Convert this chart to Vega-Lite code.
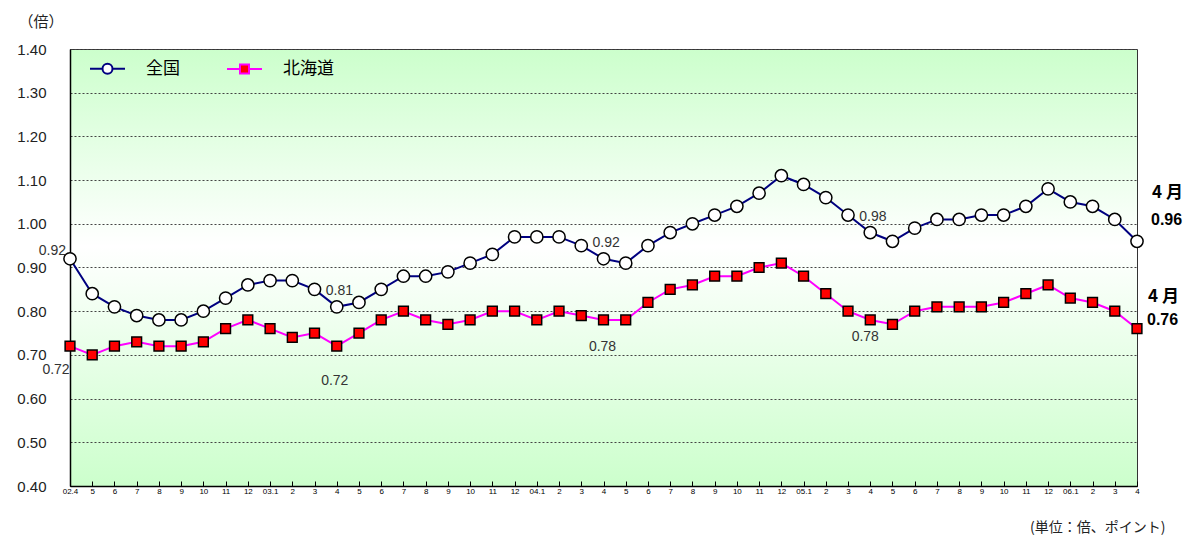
{
  "$schema": "https://vega.github.io/schema/vega-lite/v6.json",
  "width": 1067,
  "height": 437,
  "autosize": {"type": "none"},
  "padding": {"left": 70, "top": 49, "right": 58, "bottom": 53},
  "background": "white",
  "data": {"values": [
    {"m": "02.4", "全国": 0.92, "北海道": 0.72},
    {"m": "02.5", "全国": 0.84, "北海道": 0.70},
    {"m": "02.6", "全国": 0.81, "北海道": 0.72},
    {"m": "02.7", "全国": 0.79, "北海道": 0.73},
    {"m": "02.8", "全国": 0.78, "北海道": 0.72},
    {"m": "02.9", "全国": 0.78, "北海道": 0.72},
    {"m": "02.10", "全国": 0.80, "北海道": 0.73},
    {"m": "02.11", "全国": 0.83, "北海道": 0.76},
    {"m": "02.12", "全国": 0.86, "北海道": 0.78},
    {"m": "03.1", "全国": 0.87, "北海道": 0.76},
    {"m": "03.2", "全国": 0.87, "北海道": 0.74},
    {"m": "03.3", "全国": 0.85, "北海道": 0.75},
    {"m": "03.4", "全国": 0.81, "北海道": 0.72},
    {"m": "03.5", "全国": 0.82, "北海道": 0.75},
    {"m": "03.6", "全国": 0.85, "北海道": 0.78},
    {"m": "03.7", "全国": 0.88, "北海道": 0.80},
    {"m": "03.8", "全国": 0.88, "北海道": 0.78},
    {"m": "03.9", "全国": 0.89, "北海道": 0.77},
    {"m": "03.10", "全国": 0.91, "北海道": 0.78},
    {"m": "03.11", "全国": 0.93, "北海道": 0.80},
    {"m": "03.12", "全国": 0.97, "北海道": 0.80},
    {"m": "04.1", "全国": 0.97, "北海道": 0.78},
    {"m": "04.2", "全国": 0.97, "北海道": 0.80},
    {"m": "04.3", "全国": 0.95, "北海道": 0.79},
    {"m": "04.4", "全国": 0.92, "北海道": 0.78},
    {"m": "04.5", "全国": 0.91, "北海道": 0.78},
    {"m": "04.6", "全国": 0.95, "北海道": 0.82},
    {"m": "04.7", "全国": 0.98, "北海道": 0.85},
    {"m": "04.8", "全国": 1.00, "北海道": 0.86},
    {"m": "04.9", "全国": 1.02, "北海道": 0.88},
    {"m": "04.10", "全国": 1.04, "北海道": 0.88},
    {"m": "04.11", "全国": 1.07, "北海道": 0.90},
    {"m": "04.12", "全国": 1.11, "北海道": 0.91},
    {"m": "05.1", "全国": 1.09, "北海道": 0.88},
    {"m": "05.2", "全国": 1.06, "北海道": 0.84},
    {"m": "05.3", "全国": 1.02, "北海道": 0.80},
    {"m": "05.4", "全国": 0.98, "北海道": 0.78},
    {"m": "05.5", "全国": 0.96, "北海道": 0.77},
    {"m": "05.6", "全国": 0.99, "北海道": 0.80},
    {"m": "05.7", "全国": 1.01, "北海道": 0.81},
    {"m": "05.8", "全国": 1.01, "北海道": 0.81},
    {"m": "05.9", "全国": 1.02, "北海道": 0.81},
    {"m": "05.10", "全国": 1.02, "北海道": 0.82},
    {"m": "05.11", "全国": 1.04, "北海道": 0.84},
    {"m": "05.12", "全国": 1.08, "北海道": 0.86},
    {"m": "06.1", "全国": 1.05, "北海道": 0.83},
    {"m": "06.2", "全国": 1.04, "北海道": 0.82},
    {"m": "06.3", "全国": 1.01, "北海道": 0.80},
    {"m": "06.4", "全国": 0.96, "北海道": 0.76}
  ]},
  "transform": [{"fold": ["全国", "北海道"], "as": ["s", "v"]}],
  "encoding": {
    "x": {
      "field": "m", "type": "ordinal", "sort": null,
      "scale": {"type": "point", "padding": 0},
      "axis": {
        "labelExpr": "indexof(['02.4','03.1','04.1','05.1','06.1'], datum.value) >= 0 ? datum.value : split(datum.value, '.')[1]",
        "labelAngle": 0, "labelFont": "Liberation Sans", "labelFontSize": 8, "labelColor": "#000",
        "labelOverlap": false, "labelPadding": 6,
        "tickSize": -5, "tickColor": "#000", "domainColor": "#000", "domainWidth": 1.5, "grid": false,
        "title": "(単位：倍、ポイント)", "titleFont": "Noto Sans CJK JP", "titleFontSize": 14,
        "titleFontWeight": "normal", "titleColor": "#222", "titleAlign": "right", "titleBaseline": "middle",
        "titleX": 1095, "titleY": 41
      }
    },
    "y": {
      "field": "v", "type": "quantitative",
      "scale": {"domain": [0.4, 1.4], "nice": false, "zero": false},
      "axis": {
        "values": [0.4, 0.5, 0.6, 0.7, 0.8, 0.9, 1.0, 1.1, 1.2, 1.3, 1.4],
        "format": ".2f", "labelFont": "Liberation Sans", "labelFontSize": 15, "labelColor": "#222",
        "ticks": false, "labelPadding": 24, "domainColor": "#000", "domainWidth": 1.5,
        "gridColor": "#444", "gridDash": [2, 2], "gridWidth": 1,
        "title": "（倍）", "titleFont": "Noto Sans CJK JP", "titleFontSize": 15, "titleFontWeight": "normal",
        "titleColor": "#222", "titleAngle": 0, "titleAlign": "left", "titleBaseline": "middle",
        "titleX": -52, "titleY": -28
      }
    }
  },
  "layer": [
    {
      "mark": {"type": "line", "strokeWidth": 2},
      "encoding": {
        "color": {
          "field": "s", "type": "nominal",
          "scale": {"domain": ["全国", "北海道"], "range": ["#000080", "#ff00ff"]},
          "legend": {
            "orient": "none", "legendX": 29, "legendY": 11, "direction": "horizontal", "title": null,
            "symbolSize": 100, "labelOffset": 30, "labelFont": "Noto Sans CJK JP", "labelFontSize": 17,
            "labelColor": "#000", "columnPadding": 43, "padding": 0, "labelLimit": 0,
            "encode": {"symbols": {"update": {
              "shape": {"signal": "datum.value === '全国' ? 'M-3.5,0H-1M1,0H3.5M-1,0A1,1 0 1,1 1,0A1,1 0 1,1 -1,0Z' : 'M-3.5,0H-0.9M0.9,0H3.5M-0.9,-0.9H0.9V0.9H-0.9Z'"},
              "fill": {"signal": "datum.value === '全国' ? '#ffffff' : '#ff0000'"},
              "stroke": {"signal": "datum.value === '全国' ? '#000080' : '#ff00ff'"},
              "strokeWidth": {"value": 2},
              "opacity": {"value": 1},
              "fillOpacity": {"value": 1}
            }}}
          }
        }
      }
    },
    {
      "transform": [{"filter": "datum.s === '全国'"}],
      "mark": {"type": "point", "shape": "circle", "filled": true, "fill": "#ffffff", "stroke": "#000", "strokeWidth": 1.5, "opacity": 1, "size": 150}
    },
    {
      "transform": [{"filter": "datum.s === '北海道'"}],
      "mark": {"type": "point", "shape": "square", "filled": true, "fill": "#ff0000", "stroke": "#000", "strokeWidth": 1.5, "opacity": 1, "size": 95}
    },
    {
      "transform": [{"filter": "datum.s === '全国' && datum.m === '02.4'"}],
      "mark": {"type": "text", "align": "right", "baseline": "middle", "dx": -4, "dy": -8, "font": "Liberation Sans", "fontSize": 14, "color": "#333"},
      "encoding": {"text": {"field": "v", "type": "quantitative", "format": ".2f"}}
    },
    {
      "transform": [{"filter": "datum.s === '全国' && (datum.m === '03.4' || datum.m === '04.4' || datum.m === '05.4')"}],
      "mark": {"type": "text", "align": "left", "baseline": "middle", "dx": -11, "dy": -16, "font": "Liberation Sans", "fontSize": 14, "color": "#333"},
      "encoding": {"text": {"field": "v", "type": "quantitative", "format": ".2f"}}
    },
    {
      "transform": [{"filter": "datum.s === '北海道' && datum.m === '02.4'"}],
      "mark": {"type": "text", "align": "center", "baseline": "middle", "dx": -14, "dy": 24, "font": "Liberation Sans", "fontSize": 14, "color": "#333"},
      "encoding": {"text": {"field": "v", "type": "quantitative", "format": ".2f"}}
    },
    {
      "transform": [{"filter": "datum.s === '北海道' && datum.m === '03.4'"}],
      "mark": {"type": "text", "align": "center", "baseline": "middle", "dx": -2, "dy": 35, "font": "Liberation Sans", "fontSize": 14, "color": "#333"},
      "encoding": {"text": {"field": "v", "type": "quantitative", "format": ".2f"}}
    },
    {
      "transform": [{"filter": "datum.s === '北海道' && datum.m === '04.4'"}],
      "mark": {"type": "text", "align": "center", "baseline": "middle", "dx": -1, "dy": 27, "font": "Liberation Sans", "fontSize": 14, "color": "#333"},
      "encoding": {"text": {"field": "v", "type": "quantitative", "format": ".2f"}}
    },
    {
      "transform": [{"filter": "datum.s === '北海道' && datum.m === '05.4'"}],
      "mark": {"type": "text", "align": "center", "baseline": "middle", "dx": -5, "dy": 17, "font": "Liberation Sans", "fontSize": 14, "color": "#333"},
      "encoding": {"text": {"field": "v", "type": "quantitative", "format": ".2f"}}
    },
    {
      "transform": [{"filter": "datum.s === '全国' && datum.m === '06.4'"}],
      "mark": {"type": "text", "align": "left", "baseline": "middle", "dx": 15, "dy": -48, "font": "Noto Sans CJK JP", "fontSize": 17, "fontWeight": "bold", "color": "#000", "text": "4 月"}
    },
    {
      "transform": [{"filter": "datum.s === '全国' && datum.m === '06.4'"}],
      "mark": {"type": "text", "align": "left", "baseline": "middle", "dx": 14, "dy": -21, "font": "Liberation Sans", "fontSize": 16, "fontWeight": "bold", "color": "#000"},
      "encoding": {"text": {"field": "v", "type": "quantitative", "format": ".2f"}}
    },
    {
      "transform": [{"filter": "datum.s === '北海道' && datum.m === '06.4'"}],
      "mark": {"type": "text", "align": "left", "baseline": "middle", "dx": 11, "dy": -32, "font": "Noto Sans CJK JP", "fontSize": 17, "fontWeight": "bold", "color": "#000", "text": "4 月"}
    },
    {
      "transform": [{"filter": "datum.s === '北海道' && datum.m === '06.4'"}],
      "mark": {"type": "text", "align": "left", "baseline": "middle", "dx": 10, "dy": -9, "font": "Liberation Sans", "fontSize": 16, "fontWeight": "bold", "color": "#000"},
      "encoding": {"text": {"field": "v", "type": "quantitative", "format": ".2f"}}
    }
  ],
  "config": {
    "view": {
      "fill": {"gradient": "linear", "x1": 0, "y1": 0, "x2": 0, "y2": 1,
        "stops": [{"offset": 0, "color": "#ccffcc"}, {"offset": 0.45, "color": "#ffffff"}, {"offset": 1, "color": "#ccffcc"}]},
      "stroke": "#333",
      "strokeWidth": 1
    }
  }
}
